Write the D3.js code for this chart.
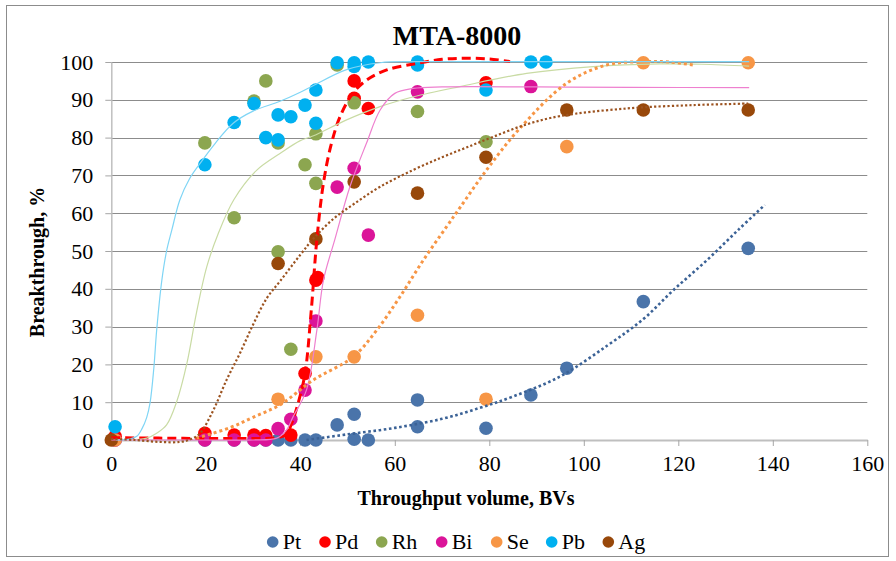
<!DOCTYPE html>
<html>
<head>
<meta charset="utf-8">
<script src="https://cdn.jsdelivr.net/npm/d3@7"></script>
<style>
  html, body { margin: 0; padding: 0; background: #fff; }
  text { font-family: "Liberation Serif", "Times New Roman", serif; fill: #000; }
</style>
</head>
<body>
<svg id="chart" width="896" height="561"></svg>
<script>
// ---------- data ----------
const seriesNames = ["Pt", "Pd", "Rh", "Bi", "Se", "Pb", "Ag"];
const seriesColors = ["#4A74AA", "#FF0000", "#8CA650", "#DB1499", "#F79646", "#00B0F0", "#98480A"];
const xTicks = [0, 20, 40, 60, 80, 100, 120, 140, 160];
const yTicks = [0, 10, 20, 30, 40, 50, 60, 70, 80, 90, 100];

const ptX = [0.8, 19.8, 26, 30.2, 32.7, 35.3, 38, 41, 43.3, 47.8, 51.4, 51.4, 54.4, 64.8, 64.8, 79.3, 88.8, 96.4, 112.6, 134.8];
const ptY = [0, 0, 0, 0, 0, 0, 0, 0, 0, 4, 6.8, 0.2, 0, 3.5, 10.6, 3.1, 11.9, 19, 36.6, 50.7];
const pdX = [0.8, 19.8, 26, 30.2, 32.7, 38, 41, 43.3, 43.7, 51.4, 51.4, 54.4, 79.3];
const pdY = [1, 1.8, 1.3, 1.3, 1.2, 1.3, 17.6, 42.3, 43, 95, 90.4, 87.7, 94.5];
const rhX = [19.8, 26, 30.2, 32.7, 35.3, 35.3, 38, 41, 43.3, 43.3, 47.8, 51.4, 64.8, 79.3];
const rhY = [78.6, 58.8, 89.7, 95, 78.6, 49.8, 24, 72.8, 67.9, 81, 99.2, 89.2, 86.9, 78.9];
const biX = [0.8, 19.8, 26, 30.2, 32.7, 35.3, 38, 41, 43.3, 47.8, 51.4, 54.4, 64.8, 88.8];
const biY = [0, 0, 0, 0, 0, 3, 5.5, 13.2, 31.5, 66.9, 71.9, 54.2, 92.1, 93.5];
const seX = [0.8, 35.3, 43.3, 51.4, 64.8, 79.3, 96.4, 112.6, 134.8];
const seY = [0, 10.8, 22, 22, 33, 10.8, 77.6, 99.8, 99.8];
const pbX = [0.8, 19.8, 26, 30.2, 32.7, 35.3, 35.3, 38, 41, 43.3, 43.3, 47.8, 51.4, 51.4, 54.4, 64.8, 64.8, 79.3, 88.8, 92];
const pbY = [3.5, 72.8, 84, 89, 80, 79.4, 86, 85.5, 88.6, 92.6, 83.8, 99.8, 99.8, 98.8, 100, 99.2, 100, 92.6, 100, 100];
const agX = [0, 35.3, 43.3, 51.4, 64.8, 79.3, 96.4, 112.6, 134.8];
const agY = [0, 46.7, 53.2, 68.3, 65.3, 74.8, 87.3, 87.3, 87.3];

// trendlines
const ptTrendX = [41.3, 50, 60, 70, 78, 85, 95, 105, 112.6, 119, 126, 132.7, 138.3];
const ptTrendY = [0, 1.5, 3.2, 5.6, 8.5, 11.5, 16.8, 25, 32, 39.7, 47.5, 55.6, 62.2];
const pdTrendX = [0, 10, 20, 30, 35, 37, 38.2, 39.6, 41, 42.3, 43.5, 44.9, 46.5, 48.4, 51, 54, 58.3, 64.6, 70, 75, 80, 84.4];
const pdTrendY = [0.6, 0.5, 0.4, 0.4, 0.6, 1.5, 4.5, 10, 17.6, 34, 53, 68, 78, 85.5, 91.5, 95.2, 97.9, 99.6, 100.7, 101, 100.8, 100.1];
const rhTrendX = [3, 7.5, 9.6, 11.7, 13.8, 16, 18, 20.2, 22.6, 25.9, 30.8, 35.7, 40, 42.8, 49.8, 56.9, 64, 73.8, 87.9, 102, 116, 125, 135];
const rhTrendY = [0, 0.5, 1.8, 4, 10, 20.3, 33.5, 45.8, 54.5, 63.5, 71.4, 75.8, 79.2, 80.5, 84.7, 88.2, 90.8, 93.5, 97, 98.8, 99.5, 99.4, 98.9];
const biTrendX = [0, 20, 30, 35, 37, 38.5, 41.3, 43.5, 44.9, 47.3, 50.5, 54, 56.9, 60, 63.9, 70, 90, 110, 135];
const biTrendY = [0, 0, 0, 0.5, 2.5, 6.2, 13.2, 29, 42.3, 53, 67, 78.5, 87.3, 91.7, 93, 93.4, 93.4, 93.3, 93.2];
const seTrendX = [18, 25, 30, 35.7, 42.8, 51.2, 56.2, 61.1, 66, 71, 73.8, 79.4, 86.5, 96.4, 104.8, 112.6, 118, 123.2];
const seTrendY = [0.5, 3.2, 6, 9.3, 15.9, 22, 29.1, 37.9, 47.5, 56.5, 61.5, 71.4, 82.5, 94.4, 99.2, 100.1, 100, 99.2];
const pbTrendX = [1, 4, 5.4, 6.5, 7.5, 8.2, 9, 9.6, 10.7, 11.7, 12.8, 14.5, 16.5, 18.8, 22, 25.8, 30, 35.7, 40, 42.8, 49.8, 56.9, 64, 80, 100, 135];
const pbTrendY = [0, 0.3, 1, 3, 6, 9.8, 19, 29, 42.3, 50, 55.5, 63.5, 69, 73.2, 78.5, 83.8, 87, 89.6, 92, 93.8, 98, 99.8, 100.1, 100.1, 100.1, 100.1];
const agTrendX = [0, 5, 10, 14.6, 17, 18.8, 21.6, 24.4, 27.2, 30, 32.9, 35.7, 40, 42.8, 47, 51.4, 56.9, 64, 70, 75, 80.8, 87.9, 95, 109, 123.2, 134.8];
const agTrendY = [0.3, 0, -0.5, -0.5, 0.3, 1.8, 7.9, 15.9, 22.9, 30.5, 37.5, 42, 49, 53.3, 58.5, 62.5, 67, 71.5, 74.8, 77.3, 80.2, 83.5, 85.7, 87.7, 88.6, 89];

// ---------- build ----------
const seriesPoints = [[ptX, ptY], [pdX, pdY], [rhX, rhY], [biX, biY], [seX, seY], [pbX, pbY], [agX, agY]];
const trends = [
  { xs: ptTrendX, ys: ptTrendY, color: "#3B6296", width: 2.6, dash: "2.6,2.6" },
  { xs: pdTrendX, ys: pdTrendY, color: "#FF0000", width: 3, dash: "9,5" },
  { xs: rhTrendX, ys: rhTrendY, color: "#C9DBA4", width: 1.2, dash: null },
  { xs: biTrendX, ys: biTrendY, color: "#EE80CF", width: 1.2, dash: null },
  { xs: seTrendX, ys: seTrendY, color: "#F79646", width: 3, dash: "3,3" },
  { xs: pbTrendX, ys: pbTrendY, color: "#7FD5F5", width: 1.2, dash: null },
  { xs: agTrendX, ys: agTrendY, color: "#9C5320", width: 2.2, dash: "2.2,2.2" }
];

const svg = d3.select("#chart");
const x = d3.scaleLinear().domain([0, 160]).range([111.3, 867.3]);
const y = d3.scaleLinear().domain([0, 100]).range([440, 62]);

// chart area border
svg.append("rect").attr("x", 6.5).attr("y", 5.5).attr("width", 882).attr("height", 551)
  .attr("fill", "#fff").attr("stroke", "#8C8C8C").attr("stroke-width", 1);

// gridlines
svg.append("g").selectAll("line").data(yTicks.filter(d => d > 0)).join("line")
  .attr("x1", x(0)).attr("x2", x(160))
  .attr("y1", d => Math.round(y(d)) + 0.5).attr("y2", d => Math.round(y(d)) + 0.5)
  .attr("stroke", "#8C8C8C").attr("stroke-width", 1);

// axes
const xAxis = d3.axisBottom(x).tickValues(xTicks).tickSize(6).tickPadding(9).tickSizeOuter(0);
const gx = svg.append("g").attr("transform", "translate(0,440)").call(xAxis);
gx.select(".domain").attr("stroke", "#BFBFBF").attr("stroke-width", 2);
gx.selectAll(".tick line").attr("stroke", "#A6A6A6");
gx.selectAll("text").attr("font-size", 22).attr("font-family", "Liberation Serif").attr("fill", "#000");

const yAxis = d3.axisLeft(y).tickValues(yTicks).tickSize(6).tickPadding(12).tickSizeOuter(0);
const gy = svg.append("g").attr("transform", "translate(111.3,0)").call(yAxis);
gy.select(".domain").attr("stroke", "#BFBFBF").attr("stroke-width", 1.5);
gy.selectAll(".tick line").attr("stroke", "#A6A6A6");
gy.selectAll("text").attr("font-size", 22).attr("font-family", "Liberation Serif").attr("fill", "#000");

// markers
seriesPoints.forEach((pts, i) => {
  const [xs, ys] = pts;
  svg.append("g").selectAll("circle").data(xs.map((v, j) => [v, ys[j]])).join("circle")
    .attr("cx", d => x(d[0])).attr("cy", d => y(d[1])).attr("r", 6.8)
    .attr("fill", seriesColors[i]);
});

// trendlines
const line = d3.line().x(d => x(d[0])).y(d => y(d[1])).curve(d3.curveCatmullRom.alpha(0.5));
trends.forEach(t => {
  svg.append("path").datum(t.xs.map((v, j) => [v, t.ys[j]]))
    .attr("d", line).attr("fill", "none")
    .attr("stroke", t.color).attr("stroke-width", t.width)
    .attr("stroke-dasharray", t.dash);
});

// title
svg.append("text").attr("x", 457).attr("y", 45).attr("text-anchor", "middle")
  .attr("font-size", 28).attr("font-weight", "bold").text("MTA-8000");

// axis titles
svg.append("text").attr("x", 466).attr("y", 505).attr("text-anchor", "middle")
  .attr("font-size", 20).attr("font-weight", "bold").text("Throughput volume, BVs");
svg.append("text").attr("transform", "translate(44,262) rotate(-90)").attr("text-anchor", "middle")
  .attr("font-size", 20).attr("font-weight", "bold").text("Breakthrough, %");

// legend
const legendX = [272.7, 325, 381.7, 441.7, 496.7, 551.7, 608.3];
const lg = svg.append("g");
seriesNames.forEach((n, i) => {
  lg.append("circle").attr("cx", legendX[i]).attr("cy", 542).attr("r", 5.8).attr("fill", seriesColors[i]);
  lg.append("text").attr("x", legendX[i] + 10).attr("y", 549).attr("font-size", 22).text(n);
});
</script>
</body>
</html>
